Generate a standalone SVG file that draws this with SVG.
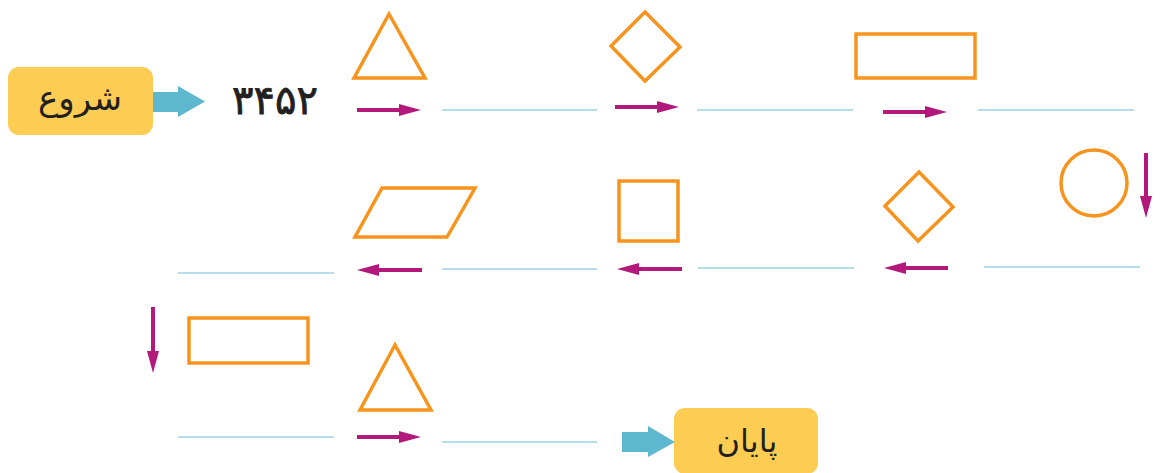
<svg xmlns="http://www.w3.org/2000/svg" width="1162" height="473" viewBox="0 0 1162 473">
<style>
.shape{fill:none;stroke:#F7941D;stroke-width:3.5}
.blank{stroke:#9CD2E6;stroke-width:1.6}
.arr{stroke:#B3197A;stroke-width:4;marker-end:url(#ah)}
.box{fill:#FDCC52}
.big{fill:#5CB7CF}
.lbl{font-family:"DejaVu Sans",sans-serif;fill:#231F20;text-anchor:middle}
</style>
<defs>
<marker id="ah" markerUnits="userSpaceOnUse" markerWidth="22" markerHeight="14" refX="12" refY="7" orient="auto">
<path d="M0,1 L22,7 L0,13 z" fill="#B3197A"/>
</marker>
</defs>
<g id="start">
<rect class="box" x="8" y="67" width="145" height="68" rx="11"/>
<text class="lbl" x="80" y="110" font-size="34">شروع</text>
</g>
<g id="number">
<text class="lbl" x="275" y="114" font-size="40" stroke="#231F20" stroke-width="0.8">۳۴۵۲</text>
</g>
<g id="triangle1"><polygon class="shape" points="389,14 354,78 425,78"/></g>
<g id="diamond1"><polygon class="shape" points="645,12 680,47 645,81 611,46"/></g>
<g id="rect1"><rect class="shape" x="856" y="34" width="119" height="44"/></g>
<g id="circle1"><circle class="shape" cx="1094" cy="183" r="33"/></g>
<g id="diamond2"><polygon class="shape" points="919,172 953,207 918,241 885,206"/></g>
<g id="square1"><rect class="shape" x="619" y="181" width="59" height="60"/></g>
<g id="parallelogram1"><polygon class="shape" points="382,188 475,188 447,237 355,237"/></g>
<g id="rect2"><rect class="shape" x="189" y="318" width="119" height="45"/></g>
<g id="triangle2"><polygon class="shape" points="395,345 360,410 431,410"/></g>
<g id="end">
<rect class="box" x="674" y="408" width="144" height="66" rx="11"/>
<text class="lbl" x="747" y="452" font-size="32">پایان</text>
</g>
<g id="connectors">
<polygon class="big" points="153,92 178,92 178,86 205,101.5 178,117 178,112 153,112"/>
<polygon class="big" points="622,432 648,432 648,426 675,442 648,457 648,452 622,452"/>
<line class="arr" x1="357" y1="110" x2="411" y2="110"/>
<line class="blank" x1="442" y1="110" x2="597" y2="110"/>
<line class="arr" x1="615" y1="107" x2="669" y2="107"/>
<line class="blank" x1="697" y1="110" x2="853" y2="110"/>
<line class="arr" x1="883" y1="112" x2="937" y2="112"/>
<line class="blank" x1="978" y1="110" x2="1134" y2="110"/>
<line class="arr" x1="1146" y1="153" x2="1146" y2="208"/>
<line class="blank" x1="984" y1="267" x2="1140" y2="267"/>
<line class="arr" x1="948" y1="268" x2="894" y2="268"/>
<line class="blank" x1="698" y1="268" x2="854" y2="268"/>
<line class="arr" x1="682" y1="269" x2="627" y2="269"/>
<line class="blank" x1="442" y1="269" x2="597" y2="269"/>
<line class="arr" x1="422" y1="270" x2="367" y2="270"/>
<line class="blank" x1="178" y1="273" x2="334" y2="273"/>
<line class="arr" x1="153" y1="307" x2="153" y2="363"/>
<line class="blank" x1="178" y1="437" x2="334" y2="437"/>
<line class="arr" x1="357" y1="437" x2="411" y2="437"/>
<line class="blank" x1="442" y1="442" x2="597" y2="442"/>
</g>
</svg>
